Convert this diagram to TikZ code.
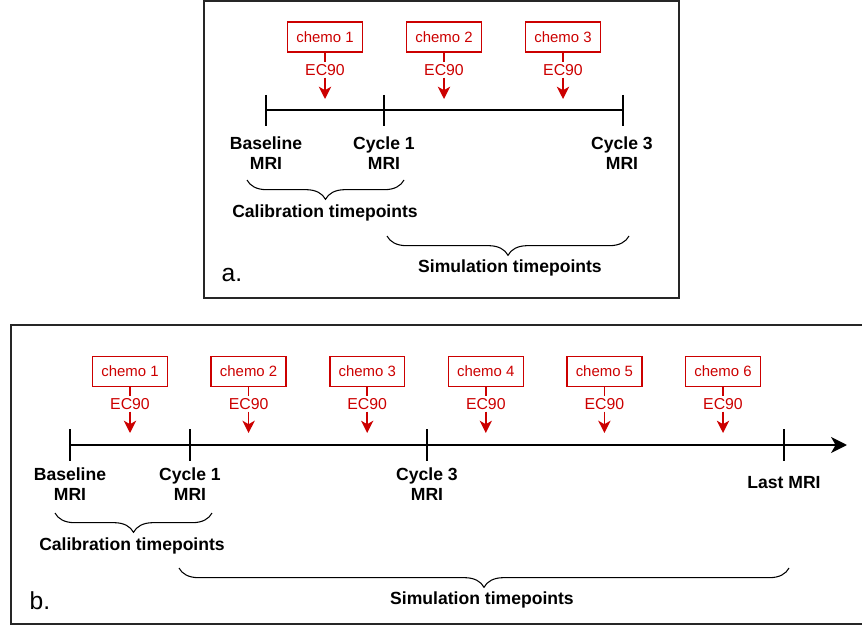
\documentclass[tikz,border=0pt]{standalone}
\usepackage{fontspec}
\setmainfont{Liberation Sans}
\usetikzlibrary{arrows.meta,positioning,calc,decorations.pathreplacing}
\definecolor{chemored}{HTML}{CC0000}

\begin{document}
\begin{tikzpicture}[x=0.02cm, y=-0.02cm,
  frame/.style={draw=black!85, line width=0.85pt},
  axisline/.style={draw=black, line width=1.6pt},
  ticmark/.style={draw=black, line width=1.5pt},
  chemobox/.style={draw=chemored, line width=0.9pt, text=chemored, font=\fontsize{8.5}{10}\selectfont,
    minimum width=1.5cm, minimum height=0.6cm, inner sep=0pt},
  doselbl/.style={text=chemored, font=\fontsize{9}{10}\selectfont, inner sep=1pt},
  doseline/.style={draw=chemored, line width=0.9pt},
  dosearrow/.style={draw=chemored, line width=0.9pt, -{Stealth[length=7pt,width=7pt,inset=2pt]}},
  mrilbl/.style={font=\bfseries\fontsize{10}{11.3}\selectfont, align=center, inner sep=0pt},
  brc/.style={decorate, decoration={brace, mirror, amplitude=11pt, aspect=0.5}, line width=0.6pt},
  tag/.style={font=\fontsize{14}{16}\selectfont, inner sep=0pt},
]
\useasboundingbox (0,0) rectangle (862,625);

% panel a
\draw[frame] (204,1) rectangle (679,298);
\foreach \n/\x in {0/266,1/384,2/623}
  \coordinate (tA\n) at (\x,110);
\draw[axisline] (tA0) -- (tA2);
\foreach \n in {0,1,2}
  \draw[ticmark] ($(tA\n)+(0,-15)$) -- ($(tA\n)+(0,16)$);
\node[mrilbl] (lA0) at (266,153) {Baseline\\MRI};
\node[mrilbl] (lA1) at (384,153) {Cycle 1\\MRI};
\node[mrilbl] (lA2) at (622,153) {Cycle 3\\MRI};
\foreach \i/\x in {1/325,2/444,3/563} {
  \node[chemobox] (cA\i) at (\x,37) {chemo \i};
  \node[doselbl] (eA\i) at (\x,70) {EC90};
  \coordinate (pA\i) at (\x,99);
  \draw[doseline] (cA\i) -- (eA\i);
  \draw[dosearrow] (eA\i) -- (pA\i);
}
\coordinate (bA0) at (247,180);
\coordinate (bA1) at (404,180);
\coordinate (bA2) at (387,236);
\coordinate (bA3) at (629,236);
\draw[brc] (bA0) -- (bA1);
\draw[brc] (bA2) -- (bA3);
\node[mrilbl] (calA) at (325,213) {Calibration timepoints};
\node[mrilbl] (simA) at (510,268) {Simulation timepoints};
\node[tag] (tagA) at (232,275) {a.};

% panel b
\draw[frame] (870,325) -| (11,624) -- (870,624);
\foreach \n/\x in {0/70,1/190,2/427,3/784}
  \coordinate (tB\n) at (\x,445);
\coordinate (endB) at (847,445);
\draw[axisline, -{Stealth[length=9pt,width=9pt,inset=2.5pt]}] (tB0) -- (endB);
\foreach \n in {0,...,3}
  \draw[ticmark] ($(tB\n)+(0,-16)$) -- ($(tB\n)+(0,16)$);
\node[mrilbl] (lB0) at (70,484) {Baseline\\MRI};
\node[mrilbl] (lB1) at (190,484) {Cycle 1\\MRI};
\node[mrilbl] (lB2) at (427,484) {Cycle 3\\MRI};
\node[mrilbl] (lB3) at (784,483) {Last MRI};
\foreach \i in {1,...,6} {
  \pgfmathsetmacro{\xc}{130 + (\i-1)*118.6}
  \node[chemobox] (cB\i) at (\xc,371.5) {chemo \i};
  \node[doselbl] (eB\i) at (\xc,404) {EC90};
  \coordinate (pB\i) at (\xc,433);
  \draw[doseline] (cB\i) -- (eB\i);
  \draw[dosearrow] (eB\i) -- (pB\i);
}
\coordinate (bB0) at (55,513);
\coordinate (bB1) at (212,513);
\coordinate (bB2) at (179,568);
\coordinate (bB3) at (789,568);
\draw[brc] (bB0) -- (bB1);
\draw[brc] (bB2) -- (bB3);
\node[mrilbl] (calB) at (132,546) {Calibration timepoints};
\node[mrilbl] (simB) at (482,600) {Simulation timepoints};
\node[tag] (tagB) at (40,601) {b.};
\end{tikzpicture}
\end{document}
